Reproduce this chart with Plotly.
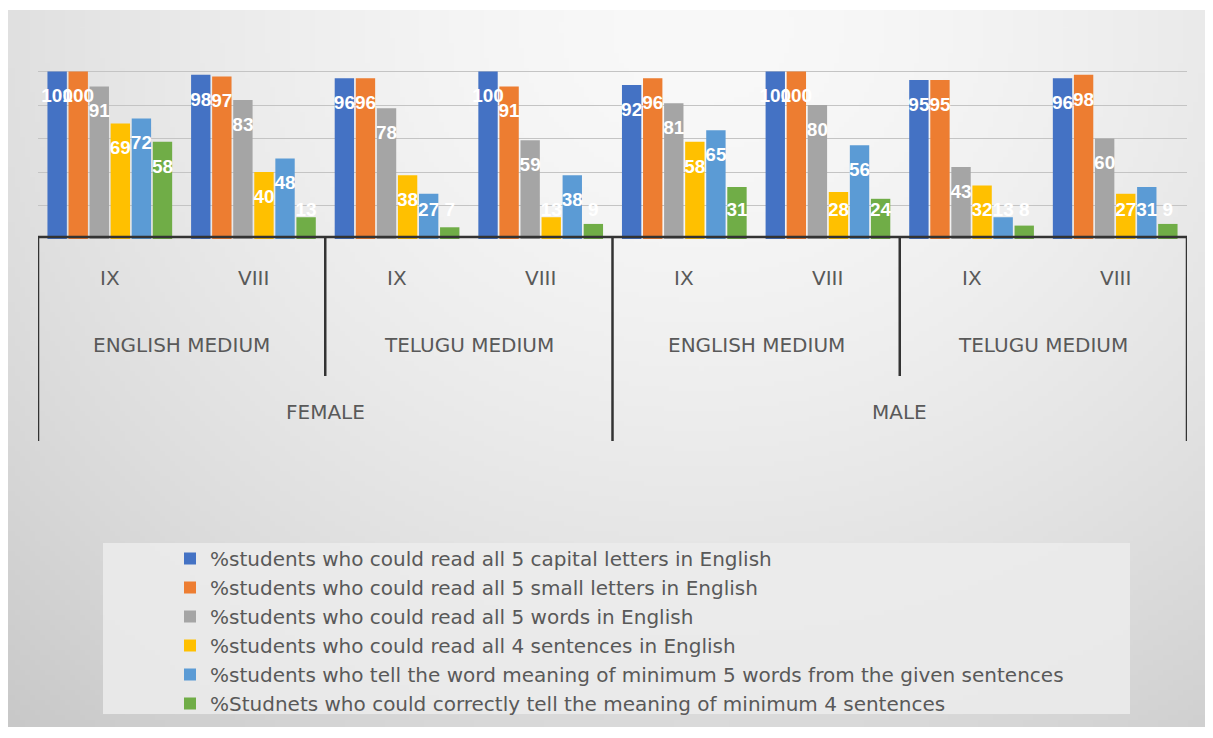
import base64
import struct
import zlib

import numpy as np
import plotly.graph_objects as go

# ---- data -------------------------------------------------------------
genders = ["FEMALE", "MALE"]
mediums = ["ENGLISH MEDIUM", "TELUGU MEDIUM"]
grades = ["IX", "VIII"]

series_names = [
    "%students who could read all 5 capital letters in English",
    "%students who could read all 5 small letters in English",
    "%students who could read all 5 words in English",
    "%students who could read all 4 sentences in English",
    "%students who tell the word meaning of minimum 5 words from the given sentences",
    "%Studnets who could correctly tell the meaning of minimum 4 sentences",
]

# order: F-EM-IX, F-EM-VIII, F-TM-IX, F-TM-VIII, M-EM-IX, M-EM-VIII, M-TM-IX, M-TM-VIII
capital_letters = [100, 98, 96, 100, 92, 100, 95, 96]
small_letters = [100, 97, 96, 91, 96, 100, 95, 98]
words = [91, 83, 78, 59, 81, 80, 43, 60]
sentences = [69, 40, 38, 13, 58, 28, 32, 27]
word_meaning = [72, 48, 27, 38, 65, 56, 13, 31]
sentence_meaning = [58, 13, 7, 9, 31, 24, 8, 9]

series_values = [capital_letters, small_letters, words, sentences,
                 word_meaning, sentence_meaning]
colors = ["#4472C4", "#ED7D31", "#A5A5A5", "#FFC000", "#5B9BD5", "#70AD47"]

# ---- layout geometry (pixels) ----------------------------------------
W, H = 1213, 738
PL, PR, PT, PB = 38, 1187, 38, 239          # plot area
PW, PH = PR - PL, PB - PT


def px_x(p):
    return (p - PL) / PW


def px_y(p):
    return (PB - p) / PH


# ---- soft radial background for the chart area ------------------------
def gradient_png():
    gw, gh = 240, 144
    xs = np.linspace(0, 1, gw)[None, :]
    ys = np.linspace(0, 1, gh)[:, None]
    d = np.sqrt(((xs - 0.58) / 0.78) ** 2 + ((ys - 0.02) / 1.15) ** 2)
    val = 249 - 40 * np.clip(d, 0, 1.25) ** 1.6
    img = np.clip(val, 0, 255).astype(np.uint8)
    raw = b"".join(b"\x00" + row.tobytes() for row in img)

    def chunk(tag, data):
        c = struct.pack(">I", len(data)) + tag + data
        return c + struct.pack(">I", zlib.crc32(tag + data) & 0xFFFFFFFF)

    png = (b"\x89PNG\r\n\x1a\n"
           + chunk(b"IHDR", struct.pack(">IIBBBBB", gw, gh, 8, 0, 0, 0, 0))
           + chunk(b"IDAT", zlib.compress(raw, 9))
           + chunk(b"IEND", b""))
    return "data:image/png;base64," + base64.b64encode(png).decode()


fig = go.Figure()

# ---- bars ---------------------------------------------------------------
n_groups = len(capital_letters)
n_series = len(series_values)
group_gap = 0.12
slot = (1 - group_gap) / n_series
bar_w = slot * 0.92
xpos = list(range(n_groups))

for j, (name, vals, col) in enumerate(zip(series_names, series_values, colors)):
    offset = -(1 - group_gap) / 2 + slot * j + (slot - bar_w) / 2
    fig.add_trace(go.Bar(
        x=xpos, y=vals, name=name, width=bar_w, offset=offset,
        marker=dict(color=col, line=dict(width=0)),
        legendgroup=f"s{j}", hoverinfo="skip",
    ))
    # value labels near the top of each bar
    fig.add_trace(go.Scatter(
        x=[i + offset + bar_w / 2 for i in xpos],
        y=[max(v - 15.5, 16.5) for v in vals],
        text=[str(v) for v in vals],
        mode="text", textposition="middle center",
        textfont=dict(family="Liberation Sans", size=19, color="white",
                      weight="bold"),
        showlegend=False, hoverinfo="skip", legendgroup=f"s{j}",
    ))

# ---- category frame lines --------------------------------------------
line_col = "#333333"
shapes = [
    dict(type="line", xref="x", yref="paper", x0=-0.5, x1=n_groups - 0.5,
         y0=px_y(237), y1=px_y(237), line=dict(color=line_col, width=2.5)),
]
for xb in (-0.5, 3.5, 7.5):
    shapes.append(dict(type="line", xref="x", yref="paper", x0=xb, x1=xb,
                       y0=px_y(237), y1=px_y(441),
                       line=dict(color=line_col, width=2.5)))
for xb in (1.5, 5.5):
    shapes.append(dict(type="line", xref="x", yref="paper", x0=xb, x1=xb,
                       y0=px_y(237), y1=px_y(376),
                       line=dict(color=line_col, width=2.5)))

# legend panel
shapes.append(dict(type="rect", xref="paper", yref="paper",
                   x0=px_x(103), x1=px_x(1130), y0=px_y(543), y1=px_y(714),
                   fillcolor="rgba(236,236,236,0.85)", line=dict(width=0),
                   layer="below"))

# ---- category labels --------------------------------------------------
cat_font = dict(family="DejaVu Sans", size=20, color="#595959")
annotations = []
k = 0
for g_i, g in enumerate(genders):
    for m_i, m in enumerate(mediums):
        for gr in grades:
            annotations.append(dict(x=k, y=px_y(278), xref="x", yref="paper",
                                    text=gr, showarrow=False, font=cat_font,
                                    yanchor="middle"))
            k += 1
        annotations.append(dict(x=g_i * 4 + m_i * 2 + 0.5, y=px_y(345),
                                xref="x", yref="paper", text=m,
                                showarrow=False, font=cat_font,
                                yanchor="middle"))
    annotations.append(dict(x=g_i * 4 + 1.5, y=px_y(412), xref="x",
                            yref="paper", text=g, showarrow=False,
                            font=cat_font, yanchor="middle"))

fig.update_layout(
    width=W, height=H,
    margin=dict(l=PL, r=W - PR, t=PT, b=H - PB, autoexpand=False),
    paper_bgcolor="white",
    plot_bgcolor="rgba(0,0,0,0)",
    barmode="overlay",
    xaxis=dict(range=[-0.5, n_groups - 0.5], showgrid=False, zeroline=False,
               showticklabels=False, ticks="", showline=False, fixedrange=True),
    yaxis=dict(range=[0, 120], dtick=20, showgrid=True, gridcolor="#c4c4c4",
               gridwidth=1, zeroline=False, showticklabels=False, ticks="",
               showline=False, fixedrange=True),
    showlegend=True,
    legend=dict(xref="container", yref="container",
                x=170 / W, y=1 - 539 / H, xanchor="left", yanchor="top",
                bgcolor="rgba(0,0,0,0)", tracegroupgap=7,
                font=dict(family="DejaVu Sans", size=20, color="#595959"),
                traceorder="normal", itemclick=False, itemdoubleclick=False),
    shapes=shapes,
    annotations=annotations,
    images=[dict(source=gradient_png(), xref="paper", yref="paper",
                 x=px_x(8), y=px_y(10), sizex=(1205 - 8) / PW,
                 sizey=(727 - 10) / PH, xanchor="left", yanchor="top",
                 sizing="stretch", layer="below")],
)

fig.write_html("out.html")
